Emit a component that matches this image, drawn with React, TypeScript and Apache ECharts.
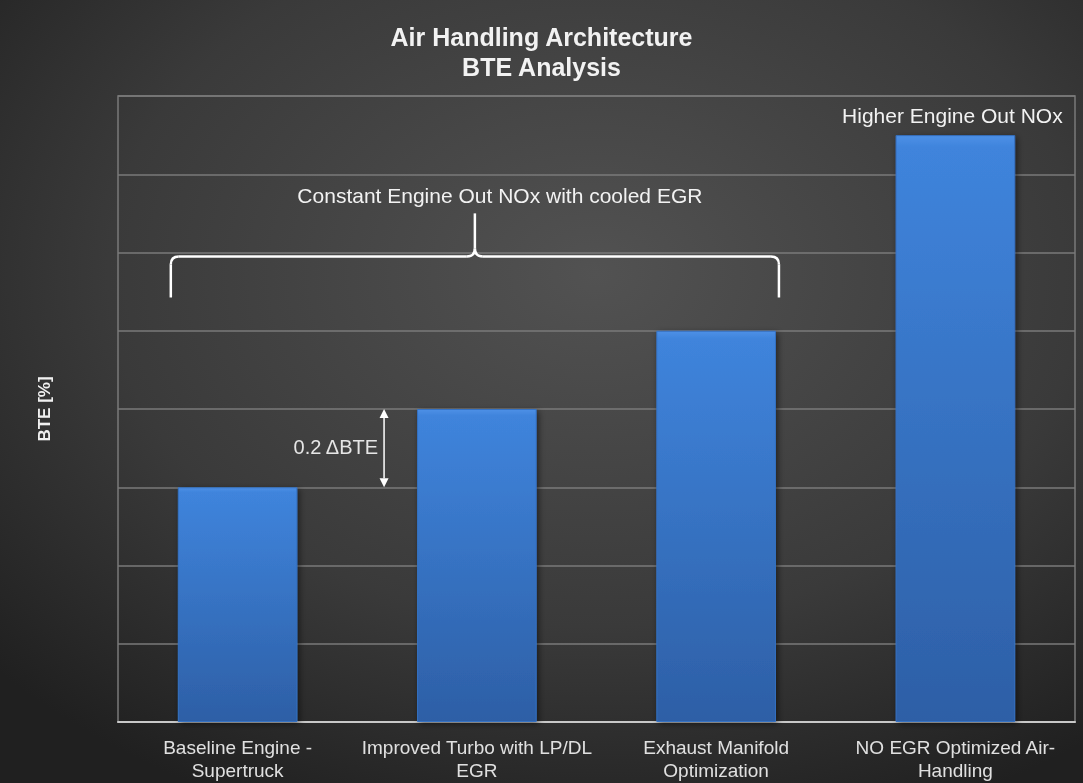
import React, { useEffect, useRef } from "react";
import * as echarts from "echarts";

const titleLines = ["Air Handling Architecture", "BTE Analysis"];
const categories = [
  "Baseline Engine -\nSupertruck",
  "Improved Turbo with LP/DL\nEGR",
  "Exhaust Manifold\nOptimization",
  "NO EGR Optimized Air-\nHandling",
];
const bteValues = [0.6, 0.8, 1.0, 1.5];
const yAxisName = "BTE [%]";
const yMin = 0;
const yMax = 1.6;
const yInterval = 0.2;

const braceText = "Constant Engine Out NOx with cooled EGR";
const braceTipValue = 1.085;
const braceBarValue = 1.19;
const bracePeakValue = 1.3;
const braceTextValue = 1.345;
const deltaText = "0.2 \u0394BTE";
const higherText = "Higher Engine Out NOx";
const higherTextValue = 1.55;

const FONT = "'Liberation Sans', Arial, sans-serif";

export default function App() {
  const ref = useRef<HTMLDivElement>(null);
  useEffect(() => {
    if (!ref.current) return;
    const chart = echarts.init(ref.current, null, { renderer: "svg" });
    chart.setOption({
      animation: false,
      backgroundColor: {
        type: "radial",
        x: 0.55,
        y: 0.35,
        r: 0.75,
        colorStops: [
          { offset: 0, color: "#525252" },
          { offset: 0.6, color: "#3a3a3a" },
          { offset: 1, color: "#202020" },
        ],
      },
      title: {
        text: titleLines.join("\n"),
        left: "center",
        top: 17,
        textStyle: {
          color: "#f2f2f2",
          fontFamily: FONT,
          fontWeight: "bold",
          fontSize: 25,
          lineHeight: 30,
        },
      },
      grid: {
        left: 118,
        right: 8,
        top: 96,
        bottom: 61,
        show: true,
        borderColor: "#7a7a7a",
        borderWidth: 1.5,
      },
      xAxis: {
        type: "category",
        data: categories,
        axisLine: { lineStyle: { color: "#c8c8c8", width: 2 } },
        axisTick: { show: false },
        axisLabel: {
          color: "#e0e0e0",
          fontFamily: FONT,
          fontSize: 19,
          lineHeight: 23,
          margin: 14,
          interval: 0,
        },
      },
      yAxis: {
        type: "value",
        min: yMin,
        max: yMax,
        interval: yInterval,
        name: yAxisName,
        nameLocation: "middle",
        nameGap: 65,
        nameRotate: 90,
        nameTextStyle: {
          color: "#f0f0f0",
          fontFamily: FONT,
          fontWeight: "bold",
          fontSize: 17,
        },
        axisLabel: { show: false },
        axisLine: { show: false },
        axisTick: { show: false },
        splitLine: { lineStyle: { color: "#7a7a7a", width: 1.5 } },
      },
      series: [
        {
          type: "bar",
          data: bteValues,
          barWidth: "50%",
          itemStyle: {
            color: {
              type: "linear",
              x: 0,
              y: 0,
              x2: 0,
              y2: 1,
              colorStops: [
                { offset: 0, color: "#4d90e6" },
                { offset: 0.02, color: "#3f84dc" },
                { offset: 1, color: "#2d5fa6" },
              ],
            },
            borderColor: "#3572c4",
            borderWidth: 1,
            shadowColor: "rgba(0,0,0,0.5)",
            shadowBlur: 6,
            shadowOffsetX: 2,
            shadowOffsetY: 2,
          },
        },
      ],
    });

    const p = (i: number, v: number) =>
      chart.convertToPixel({ seriesIndex: 0 }, [i, v]) as number[];
    const band = p(1, 0)[0] - p(0, 0)[0];
    const half = band * 0.25;
    const xl = p(0, 0)[0] - half - 7;
    const xr = p(2, 0)[0] + half + 3;
    const xc = (xl + xr) / 2;
    const yTip = p(0, braceTipValue)[1];
    const yBar = p(0, braceBarValue)[1];
    const yPeak = p(0, bracePeakValue)[1];
    const yText = p(0, braceTextValue)[1];
    const stroke = { stroke: "#ffffff", lineWidth: 2.5, fill: null };
    const r = 8;

    const arrowX = p(1, 0)[0] - half - 33;
    const yTop = p(1, bteValues[1])[1];
    const yBot = p(0, bteValues[0])[1];
    const ah = 9;
    const aw = 4.5;

    chart.setOption({
      graphic: [
        { type: "line", shape: { x1: xl, y1: yTip, x2: xl, y2: yBar + r }, style: stroke },
        {
          type: "bezierCurve",
          shape: { x1: xl, y1: yBar + r, cpx1: xl, cpy1: yBar, x2: xl + r, y2: yBar },
          style: stroke,
        },
        { type: "line", shape: { x1: xl + r, y1: yBar, x2: xc - r, y2: yBar }, style: stroke },
        {
          type: "bezierCurve",
          shape: { x1: xc - r, y1: yBar, cpx1: xc, cpy1: yBar, x2: xc, y2: yBar - r },
          style: stroke,
        },
        { type: "line", shape: { x1: xc, y1: yBar - r, x2: xc, y2: yPeak }, style: stroke },
        {
          type: "bezierCurve",
          shape: { x1: xc + r, y1: yBar, cpx1: xc, cpy1: yBar, x2: xc, y2: yBar - r },
          style: stroke,
        },
        { type: "line", shape: { x1: xc + r, y1: yBar, x2: xr - r, y2: yBar }, style: stroke },
        {
          type: "bezierCurve",
          shape: { x1: xr - r, y1: yBar, cpx1: xr, cpy1: yBar, x2: xr, y2: yBar + r },
          style: stroke,
        },
        { type: "line", shape: { x1: xr, y1: yBar + r, x2: xr, y2: yTip }, style: stroke },
        {
          type: "text",
          x: xc + 25,
          y: yText,
          style: {
            text: braceText,
            fill: "#f2f2f2",
            font: `21px ${FONT}`,
            align: "center",
            verticalAlign: "middle",
          },
        },
        {
          type: "line",
          shape: { x1: arrowX, y1: yTop + ah, x2: arrowX, y2: yBot - ah },
          style: { stroke: "#ffffff", lineWidth: 1.5 },
        },
        {
          type: "polygon",
          shape: { points: [[arrowX, yTop], [arrowX - aw, yTop + ah], [arrowX + aw, yTop + ah]] },
          style: { fill: "#ffffff" },
        },
        {
          type: "polygon",
          shape: { points: [[arrowX, yBot], [arrowX - aw, yBot - ah], [arrowX + aw, yBot - ah]] },
          style: { fill: "#ffffff" },
        },
        {
          type: "text",
          x: arrowX - 6,
          y: (yTop + yBot) / 2 - 1,
          style: {
            text: deltaText,
            fill: "#e6e6e6",
            font: `20px ${FONT}`,
            align: "right",
            verticalAlign: "middle",
          },
        },
        {
          type: "text",
          x: p(3, 0)[0] - 3,
          y: p(3, higherTextValue)[1],
          style: {
            text: higherText,
            fill: "#f2f2f2",
            font: `21px ${FONT}`,
            align: "center",
            verticalAlign: "middle",
          },
        },
      ],
    });

    return () => chart.dispose();
  }, []);
  return (
    <div
      ref={ref}
      style={{ position: "fixed", left: 0, top: 0, width: 1083, height: 783 }}
    />
  );
}
